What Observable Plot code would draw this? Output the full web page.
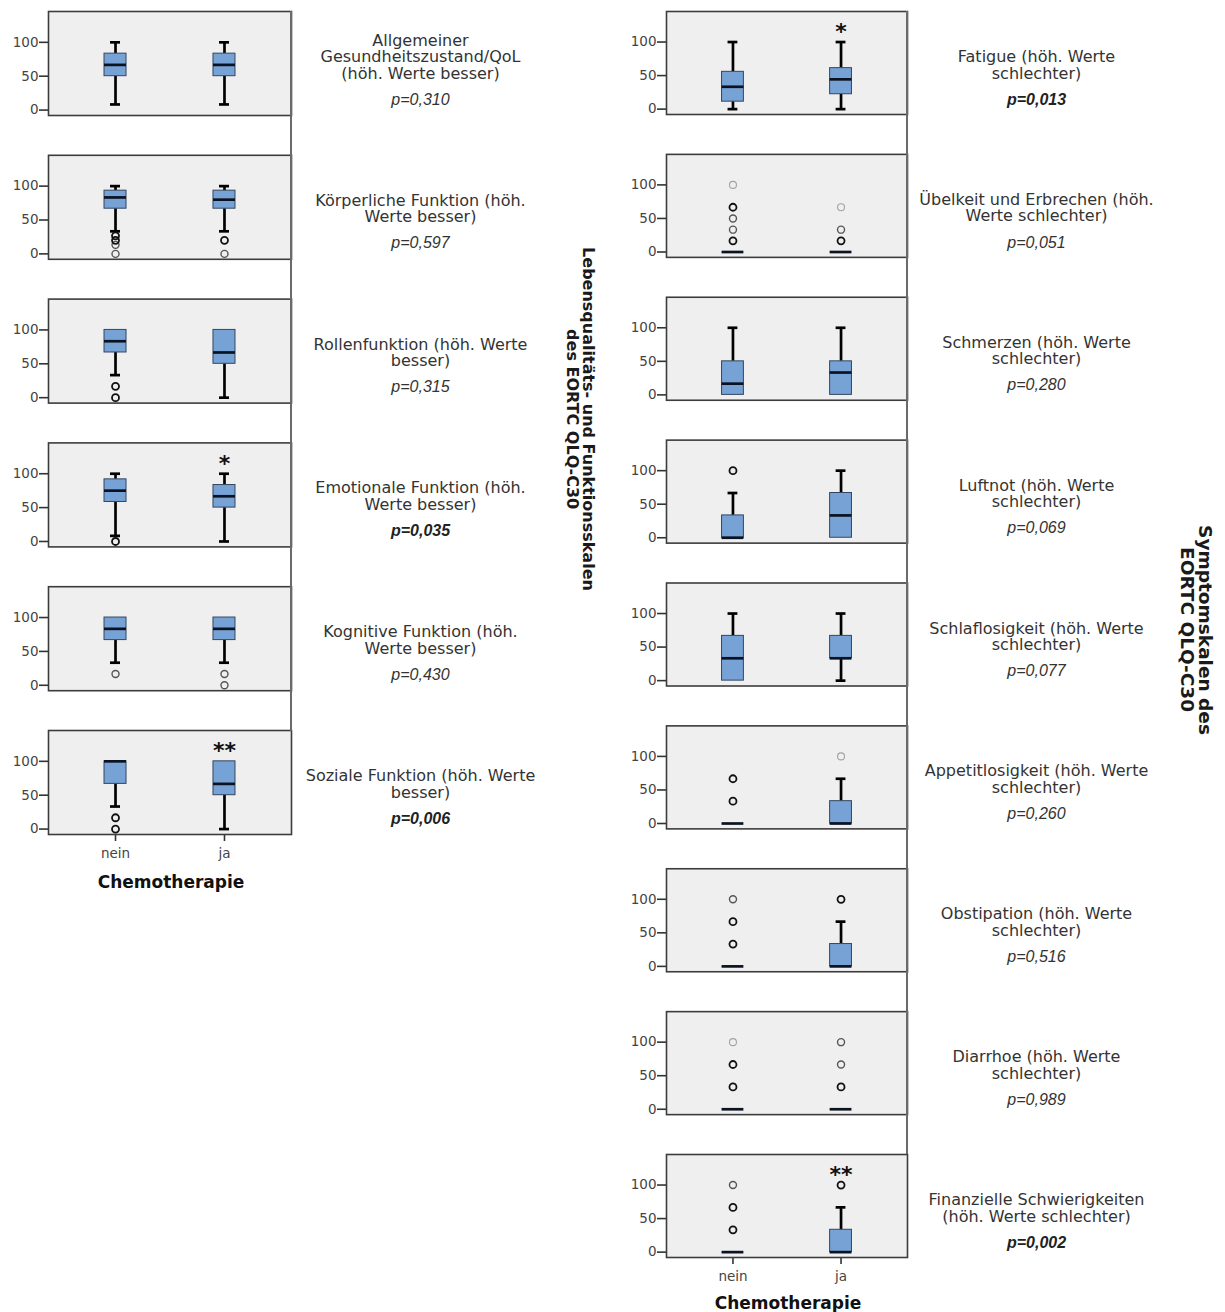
<!DOCTYPE html>
<html>
<head>
<meta charset="utf-8">
<script src="https://cdn.jsdelivr.net/npm/d3@7"></script>
<script src="https://cdn.jsdelivr.net/npm/@observablehq/plot@0.6"></script>
<style>
  body { margin: 0; background: #fff; }
  #wrap { position: relative; width: 1225px; height: 1312px; overflow: hidden; font-family: "DejaVu Sans", sans-serif; }
  .col { position: absolute; top: 0; }
  .vtitle { position: absolute; writing-mode: vertical-rl; text-align: center; font-weight: bold; color: #1a1a1a; white-space: nowrap; transform: translate(-50%, -50%); }
  .xlab { position: absolute; font-weight: bold; font-size: 17px; color: #111; white-space: nowrap; transform: translate(-50%, -50%); }
  .conn { position: absolute; width: 1.6px; background: #6a6a6a; }
  svg g[aria-label="y-axis tick"] path, svg g[aria-label="x-axis tick"] path { stroke-width: 1.6px; stroke: #333; }
</style>
</head>
<body>
<div id="wrap"></div>
<script>
// ---------- data ----------
const groups = ["nein", "ja"];

// Left column: Lebensqualitäts- und Funktionsskalen
const leftLabels = [
  "Allgemeiner\nGesundheitszustand/QoL\n(höh. Werte besser)",
  "Körperliche Funktion (höh.\nWerte besser)",
  "Rollenfunktion (höh. Werte\nbesser)",
  "Emotionale Funktion (höh.\nWerte besser)",
  "Kognitive Funktion (höh.\nWerte besser)",
  "Soziale Funktion (höh. Werte\nbesser)"
];
const leftP = ["p=0,310", "p=0,597", "p=0,315", "p=0,035", "p=0,430", "p=0,006"];
const leftStars = ["", "", "", "*", "", "**"];
// [whisker low, Q1, median, Q3, whisker high]
const leftNein = [
  [8.3, 50, 66.7, 83.3, 100],
  [33.3, 66.7, 83.3, 93.3, 100],
  [33.3, 66.7, 83.3, 100, 100],
  [8.3, 58.3, 75, 91.7, 100],
  [33.3, 66.7, 83.3, 100, 100],
  [33.3, 66.7, 100, 100, 100]
];
const leftJa = [
  [8.3, 50, 66.7, 83.3, 100],
  [33.3, 66.7, 80, 93.3, 100],
  [0, 50, 66.7, 100, 100],
  [0, 50, 66.7, 83.3, 100],
  [33.3, 66.7, 83.3, 100, 100],
  [0, 50, 66.7, 100, 100]
];
// outliers: [value, overlap count]
const leftOutNein = [[], [[26.7, 3], [20, 3], [13.3, 2], [0, 2]], [[16.7, 3], [0, 3]], [[0, 3]], [[16.7, 2]], [[16.7, 3], [0, 3]]];
const leftOutJa = [[], [[20, 3], [0, 2]], [], [], [[16.7, 2], [0, 2]], []];

// Right column: Symptomskalen
const rightLabels = [
  "Fatigue (höh. Werte\nschlechter)",
  "Übelkeit und Erbrechen (höh.\nWerte schlechter)",
  "Schmerzen (höh. Werte\nschlechter)",
  "Luftnot (höh. Werte\nschlechter)",
  "Schlaflosigkeit (höh. Werte\nschlechter)",
  "Appetitlosigkeit (höh. Werte\nschlechter)",
  "Obstipation (höh. Werte\nschlechter)",
  "Diarrhoe (höh. Werte\nschlechter)",
  "Finanzielle Schwierigkeiten\n(höh. Werte schlechter)"
];
const rightP = ["p=0,013", "p=0,051", "p=0,280", "p=0,069", "p=0,077", "p=0,260", "p=0,516", "p=0,989", "p=0,002"];
const rightStars = ["*", "", "", "", "", "", "", "", "**"];
const rightNein = [
  [0, 11.1, 33.3, 55.6, 100],
  [0, 0, 0, 0, 0],
  [0, 0, 16.7, 50, 100],
  [0, 0, 0, 33.3, 66.7],
  [0, 0, 33.3, 66.7, 100],
  [0, 0, 0, 0, 0],
  [0, 0, 0, 0, 0],
  [0, 0, 0, 0, 0],
  [0, 0, 0, 0, 0]
];
const rightJa = [
  [0, 22.2, 44.4, 61.1, 100],
  [0, 0, 0, 0, 0],
  [0, 0, 33.3, 50, 100],
  [0, 0, 33.3, 66.7, 100],
  [0, 33.3, 33.3, 66.7, 100],
  [0, 0, 0, 33.3, 66.7],
  [0, 0, 0, 33.3, 66.7],
  [0, 0, 0, 0, 0],
  [0, 0, 0, 33.3, 66.7]
];
const rightOutNein = [
  [], [[100, 1], [66.7, 3], [50, 2], [33.3, 2], [16.7, 3]], [], [[100, 3]], [],
  [[66.7, 3], [33.3, 3]], [[100, 2], [66.7, 3], [33.3, 3]], [[100, 1], [66.7, 3], [33.3, 3]], [[100, 2], [66.7, 3], [33.3, 3]]
];
const rightOutJa = [
  [], [[66.7, 1], [33.3, 2], [16.7, 3]], [], [], [],
  [[100, 1]], [[100, 3]], [[100, 2], [66.7, 2], [33.3, 3]], [[100, 3]]
];

// ---------- drawing ----------
const outlierStyle = {1: ["#a3a3a3", 1.1], 2: ["#555", 1.4], 3: ["#111", 1.8]};

function column({labels, pvals, stars, nein, ja, outNein, outJa, width, height, marginLeft, marginRight, marginBottom, padInner}) {
  const panels = labels.map((label, i) => ({i, label, p: pvals[i], star: stars[i], g: "ja", sig: stars[i] !== ""}));
  const boxes = [];
  const outs = [];
  labels.forEach((_, i) => {
    [nein[i], ja[i]].forEach((s, k) => boxes.push({i, g: groups[k], lo: s[0], q1: s[1], med: s[2], q3: s[3], hi: s[4]}));
    [outNein[i], outJa[i]].forEach((list, k) => list.forEach(([v, n]) => outs.push({i, g: groups[k], v, n})));
  });
  const lineW = 2.7;
  const pText = {fy: "i", frameAnchor: "top-right", dx: 129, dy: 88, text: "p", textAnchor: "middle", lineAnchor: "middle", fontSize: 16, fontStyle: "italic", fill: "#333", fontFamily: "Liberation Sans, Arial, sans-serif"};
  const marks = [
    Plot.frame({fill: "#efefef", stroke: "#3c3c3c", strokeWidth: 1.6}),
    Plot.ruleX(boxes.filter(d => d.hi > d.q3), {fy: "i", x: "g", y1: "q3", y2: "hi", stroke: "#000", strokeWidth: lineW}),
    Plot.ruleX(boxes.filter(d => d.lo < d.q1), {fy: "i", x: "g", y1: "lo", y2: "q1", stroke: "#000", strokeWidth: lineW}),
    Plot.tickY(boxes.filter(d => d.hi > d.q3), {fy: "i", x: "g", y: "hi", insetLeft: 6, insetRight: 6, stroke: "#000", strokeWidth: lineW}),
    Plot.tickY(boxes.filter(d => d.lo < d.q1), {fy: "i", x: "g", y: "lo", insetLeft: 6, insetRight: 6, stroke: "#000", strokeWidth: lineW}),
    Plot.barY(boxes.filter(d => d.q3 > d.q1), {fy: "i", x: "g", y1: "q1", y2: "q3", fill: "#77a2d6", stroke: "#34465f", strokeWidth: 1}),
    Plot.tickY(boxes, {fy: "i", x: "g", y: "med", stroke: "#0b1322", strokeWidth: lineW})
  ];
  for (const n of [1, 2, 3]) {
    marks.push(Plot.dot(outs.filter(d => d.n === n), {fy: "i", x: "g", y: "v", r: 3.5, fill: "none", stroke: outlierStyle[n][0], strokeWidth: outlierStyle[n][1]}));
  }
  marks.push(
    Plot.text(panels.filter(d => d.sig), {fy: "i", x: "g", y: () => 115, text: "star", fontSize: 22, fontWeight: "bold", fill: "#111", lineAnchor: "middle"}),
    Plot.text(panels, {fy: "i", frameAnchor: "top-right", dx: 129, dy: 67, text: "label", textAnchor: "middle", lineAnchor: "bottom", lineHeight: 1.03, fontSize: 16, fill: "#333", fontFamily: "DejaVu Sans"}),
    Plot.text(panels.filter(d => !d.sig), {...pText, fontWeight: "normal"}),
    Plot.text(panels.filter(d => d.sig), {...pText, fontWeight: "bold", fill: "#222"})
  );
  return Plot.plot({
    width, height, marginLeft, marginRight, marginTop: 11, marginBottom,
    style: {fontFamily: "DejaVu Sans, sans-serif", fontSize: "13.5px", color: "#444", background: "transparent"},
    fy: {domain: d3.range(labels.length), axis: null, paddingInner: padInner, paddingOuter: 0, round: false},
    x: {domain: groups, paddingInner: 0.798, paddingOuter: 0.514, tickSize: 7, tickPadding: 7, label: null, round: false},
    y: {domain: [-8, 145.5], ticks: [0, 50, 100], tickSize: 9, tickPadding: 1, label: null},
    marks
  });
}

const wrap = document.getElementById("wrap");

const left = column({
  labels: leftLabels, pvals: leftP, stars: leftStars, nein: leftNein, ja: leftJa,
  outNein: leftOutNein, outJa: leftOutJa,
  width: 600, height: 864, marginLeft: 48, marginRight: 309, marginBottom: 30, padInner: 0.2768
});
left.classList.add("col");
left.style.left = "0px";
wrap.appendChild(left);

const right = column({
  labels: rightLabels, pvals: rightP, stars: rightStars, nein: rightNein, ja: rightJa,
  outNein: rightOutNein, outJa: rightOutJa,
  width: 625, height: 1287, marginLeft: 66, marginRight: 318, marginBottom: 30, padInner: 0.2791
});
right.classList.add("col");
right.style.left = "600px";
wrap.appendChild(right);

function addDiv(cls, text, x, y, extra) {
  const d = document.createElement("div");
  d.className = cls;
  if (text) d.innerHTML = text;
  d.style.left = x + "px";
  d.style.top = y + "px";
  Object.assign(d.style, extra || {});
  wrap.appendChild(d);
  return d;
}
// connecting lines along the right edge of the panels
addDiv("conn", "", 290.2, 11, {height: (731 - 11) + "px"});
addDiv("conn", "", 906.2, 11, {height: (1154 - 11) + "px"});
// axis titles
addDiv("xlab", "Chemotherapie", 171, 882);
addDiv("xlab", "Chemotherapie", 788, 1303);
addDiv("vtitle", "Lebensqualitäts- und Funktionsskalen<br>des EORTC QLQ-C30", 580, 419, {fontSize: "16px", lineHeight: "16px"});
addDiv("vtitle", "Symptomskalen des<br>EORTC QLQ-C30", 1196, 630, {fontSize: "18.5px", lineHeight: "18px"});
</script>
</body>
</html>
